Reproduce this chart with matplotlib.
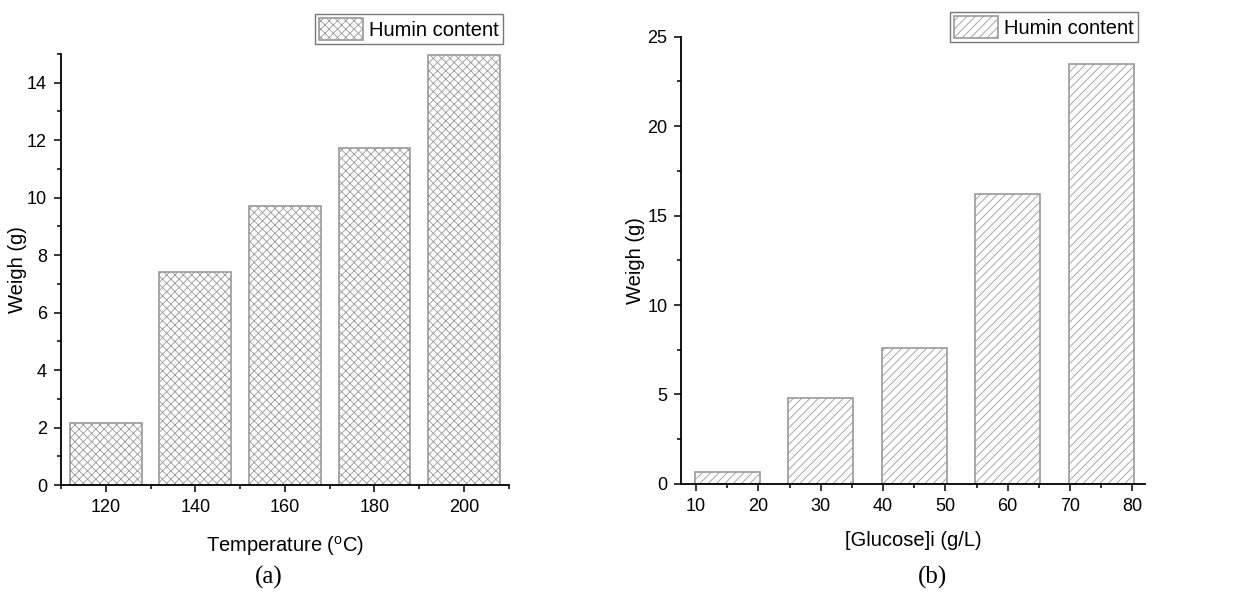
import numpy as np
import matplotlib
matplotlib.use("Agg")
import matplotlib.pyplot as plt
from matplotlib.ticker import MultipleLocator
from matplotlib.patches import Patch

plt.rcParams['font.family'] = ['Liberation Sans', 'DejaVu Sans']
plt.rcParams['mathtext.fontset'] = 'custom'
plt.rcParams['mathtext.rm'] = 'Liberation Sans'
plt.rcParams['hatch.linewidth'] = 0.6

# panel (a)
temps = [120, 140, 160, 180, 200]
humin_temp = [2.15, 7.4, 9.7, 11.73, 14.95]
# panel (b): bars span the glucose intervals
glu_centers = [15, 30, 45, 60, 75]
humin_glu = [0.67, 4.8, 7.62, 16.2, 23.45]

edge = '#999999'

fig = plt.figure(figsize=(12.43, 5.93), dpi=100)
axa = fig.add_axes([0.049, 0.182, 0.3604, 0.727])
axb = fig.add_axes([0.548, 0.184, 0.373, 0.754])

for ax in (axa, axb):
    for s in ('top', 'right'):
        ax.spines[s].set_visible(False)
    for s in ('left', 'bottom'):
        ax.spines[s].set_linewidth(1.3)
    ax.tick_params(which='major', direction='out', length=5, width=1.1, labelsize=13, pad=5)
    ax.tick_params(which='minor', direction='out', length=3, width=1.1)

axa.bar(temps, humin_temp, width=16, facecolor='white', edgecolor=edge, hatch='xxxx', linewidth=1.2)
axa.set_xlim(110, 210)
axa.set_ylim(0, 15)
axa.xaxis.set_major_locator(MultipleLocator(20))
axa.xaxis.set_minor_locator(MultipleLocator(10))
axa.yaxis.set_major_locator(MultipleLocator(2))
axa.yaxis.set_minor_locator(MultipleLocator(1))
axa.set_xlabel(r'Temperature ($^{\rm o}$C)', fontsize=14.5)
axa.set_ylabel('Weigh (g)', fontsize=14.5)
axa.xaxis.set_label_coords(0.5, -0.114)
axa.yaxis.set_label_coords(-0.076, 0.5)

axb.bar(glu_centers, humin_glu, width=10.4, facecolor='white', edgecolor=edge, hatch='////', linewidth=1.2)
axb.set_xlim(7.6, 82)
axb.set_ylim(0, 25)
axb.set_xticks(np.arange(10, 81, 10))
axb.xaxis.set_minor_locator(MultipleLocator(5))
axb.yaxis.set_major_locator(MultipleLocator(5))
axb.yaxis.set_minor_locator(MultipleLocator(2.5))
axb.set_xlabel('[Glucose]i (g/L)', fontsize=14.5)
axb.set_ylabel('Weigh (g)', fontsize=14.5)
axb.xaxis.set_label_coords(0.5, -0.106)
axb.yaxis.set_label_coords(-0.078, 0.5)

leg_kw = dict(loc='upper right', fontsize=14.5, frameon=True, fancybox=False, edgecolor='#555555',
              handlelength=2.2, handleheight=1.3, borderpad=0.2, handletextpad=0.3, borderaxespad=0)
fig.legend(handles=[Patch(facecolor='white', edgecolor=edge, hatch='xxxx', linewidth=1.2)],
           labels=['Humin content'], bbox_to_anchor=(503/1243, 1 - 14/593), **leg_kw)
fig.legend(handles=[Patch(facecolor='white', edgecolor=edge, hatch='////', linewidth=1.2)],
           labels=['Humin content'], bbox_to_anchor=(1138/1243, 1 - 12/593), **leg_kw)

fig.text(269/1243, 1 - 577/593, '(a)', fontsize=18, family='Liberation Serif', ha='center', va='center')
fig.text(932/1243, 1 - 577/593, '(b)', fontsize=18, family='Liberation Serif', ha='center', va='center')

fig.savefig('out.png', dpi=100)
